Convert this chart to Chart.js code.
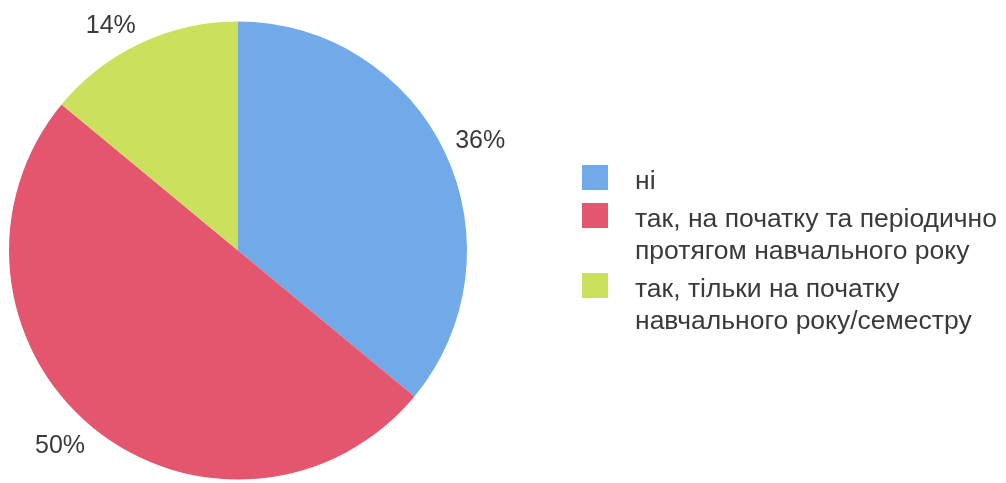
<!DOCTYPE html>
<html>
<head>
<meta charset="utf-8">
<script src="https://cdn.jsdelivr.net/npm/chart.js@4"></script>
<style>
    html, body { margin: 0; padding: 0; background: #fff; }
    #wrap { position: relative; width: 1006px; height: 483px; }
    #legend { position: absolute; left: 582px; top: 164px; font-family: "Liberation Sans", Arial, sans-serif; font-size: 26.5px; color: #3a3a3a; white-space: nowrap; }
    .item { position: relative; padding-left: 53px; line-height: 32px; margin-bottom: 6px; }
    .box { position: absolute; left: 0; top: 1px; width: 26px; height: 25px; }
</style>
</head>
<body>
<div id="wrap">
    <canvas id="chart" width="1006" height="483"></canvas>
    <div id="legend"></div>
</div>
<script>
// --- 데이터 ---
const labels = ['ні', 'так, на початку та періодично протягом навчального року', 'так, тільки на початку навчального року/семестру'];
const legendLines = [['ні'], ['так, на початку та періодично', 'протягом навчального року'], ['так, тільки на початку', 'навчального року/семестру']];
const values = [36, 50, 14];
const colors = ['#72a9e8', '#e4566d', '#cbe05c'];

// --- 퍼센트 라벨 (파이 바깥쪽, 가장 가까운 모서리를 중간 각도 선 위에) ---
const outsideLabels = {
    id: 'outsideLabels',
    afterDatasetsDraw(chart) {
        const ctx = chart.ctx;
        const meta = chart.getDatasetMeta(0);
        const fontSize = 25;
        ctx.save();
        ctx.font = fontSize + 'px "Liberation Sans", Arial, sans-serif';
        ctx.fillStyle = '#3a3a3a';
        ctx.textBaseline = 'alphabetic';
        meta.data.forEach((arc, i) => {
            const p = arc.getProps(['x', 'y', 'startAngle', 'endAngle', 'outerRadius'], true);
            const mid = (p.startAngle + p.endAngle) / 2;
            const dx = Math.cos(mid), dy = Math.sin(mid);
            const r = p.outerRadius + 11;
            const ax = p.x + dx * r, ay = p.y + dy * r;
            ctx.textAlign = dx >= 0 ? 'left' : 'right';
            const ty = dy < 0 ? ay : ay + fontSize * 0.72;
            ctx.fillText(values[i] + '%', ax, ty);
        });
        ctx.restore();
    }
};

new Chart(document.getElementById('chart'), {
    type: 'pie',
    data: {
        labels: labels,
        datasets: [{ data: values, backgroundColor: colors, borderWidth: 0 }]
    },
    options: {
        responsive: false,
        animation: false,
        layout: { padding: { top: 21, bottom: 3, left: 9, right: 539 } },
        plugins: { legend: { display: false }, tooltip: { enabled: false } }
    },
    plugins: [outsideLabels]
});

// --- 범례 ---
const legendEl = document.getElementById('legend');
legendLines.forEach((lines, i) => {
    const item = document.createElement('div');
    item.className = 'item';
    item.innerHTML = `<span class="box" style="background:${colors[i]}"></span>` + lines.join('<br>');
    legendEl.appendChild(item);
});
</script>
</body>
</html>
